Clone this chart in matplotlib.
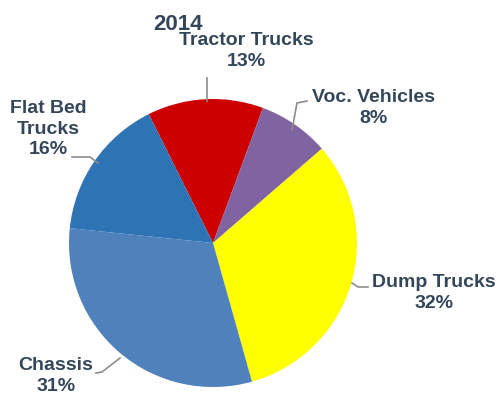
import matplotlib.pyplot as plt

# 2014 share by body type, clockwise from the top
labels = ['Tractor Trucks', 'Voc. Vehicles', 'Dump Trucks', 'Chassis', 'Flat Bed\nTrucks']
shares = [13, 8, 32, 31, 16]
colors = ['#CC0000', '#8064A2', '#FFFF00', '#4F81BD', '#2E74B5']
year = '2014'

H = 396
text_color = '#34475A'
plt.rcParams['font.family'] = ['Liberation Sans', 'DejaVu Sans']

fig = plt.figure(figsize=(5, 3.96), dpi=100)
ax = fig.add_axes([0, 0, 1, 1])

ax.pie(shares, colors=colors, startangle=116.5, counterclock=False,
       center=(213, H - 243), radius=144,
       wedgeprops=dict(edgecolor='none'))

ax.set_xlim(0, 500)
ax.set_ylim(0, H)
ax.set_aspect('equal')
ax.axis('off')

# label text centres (x, y from top) and leader lines
label_pos = [(246, 51), (374, 108), (434, 293), (56, 376), (48, 129)]
leaders = [
    [(207, 101), (207, 78)],
    [(292, 130), (297, 103), (307, 101)],
    [(352, 283), (358, 287), (368, 287)],
    [(96, 373), (102, 372), (120, 358)],
    [(72, 157), (90, 157), (98, 163)],
]

for lab, val, (x, y) in zip(labels, shares, label_pos):
    ax.text(x, H - y, f'{lab}\n{val}%', ha='center', va='center',
            fontsize=14, fontweight='bold', color=text_color, linespacing=1.3)

for pts in leaders:
    xs = [p[0] for p in pts]
    ys = [H - p[1] for p in pts]
    ax.plot(xs, ys, color='#8C8C8C', lw=1.2)

ax.text(178, H - 25, year, ha='center', va='center', fontsize=16,
        fontweight='bold', color=text_color)

plt.savefig('out.png', dpi=100)
